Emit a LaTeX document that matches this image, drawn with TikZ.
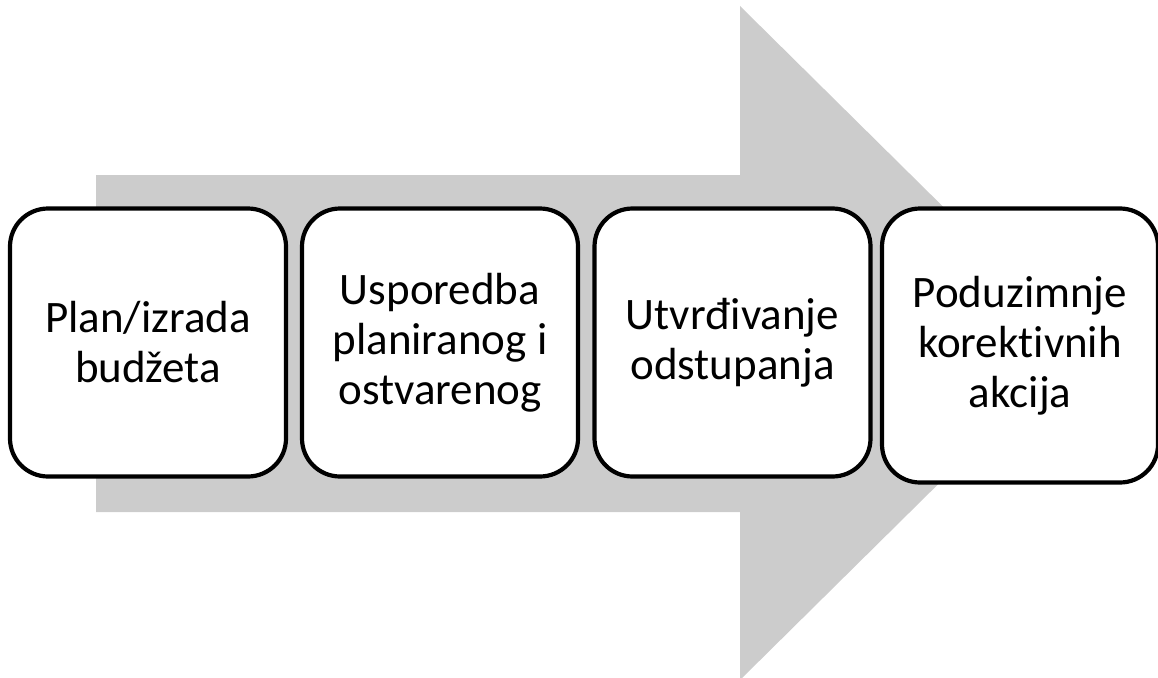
\documentclass[tikz,border=0pt]{standalone}
\usepackage{fontspec}
\setmainfont[RawFeature={-liga;-clig;-calt;-dlig}]{Carlito}
\begin{document}
\begin{tikzpicture}[x=1pt,y=-1pt,
  stepbox/.style={draw=black, line width=4.2pt, fill=white, rounded corners=38pt,
    minimum width=276pt, minimum height=268pt, align=center, inner sep=0pt,
    font=\fontsize{45}{50}\selectfont}]
\useasboundingbox (0,0) rectangle (1158,677);
\fill[black!20] (96,175) -- (740,175) -- (740,6) -- (1081,343)
  -- (740,680) -- (740,512) -- (96,512) -- cycle;
\node[stepbox] (b1) at (148,342.5) {Plan/izrada\\budžeta};
\node[stepbox] (b2) at (440,342.5) {Usporedba\\planiranog i\\ostvarenog};
\node[stepbox] (b3) at (732.5,342.5) {Utvrđivanje\\odstupanja};
\node[stepbox, minimum height=274pt] (b4) at (1020,345.5) {Poduzimnje\\korekt\kern0pt ivnih\\akcija};
\end{tikzpicture}
\end{document}
